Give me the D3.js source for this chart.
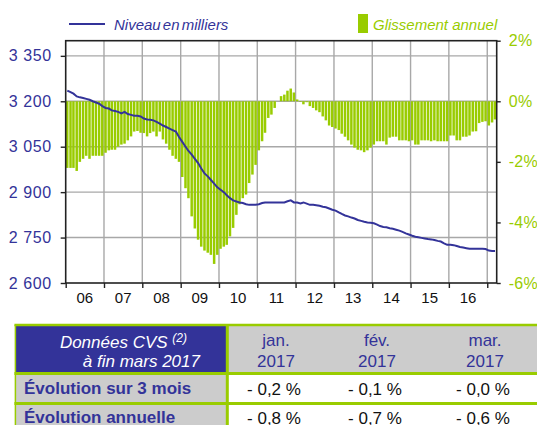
<!DOCTYPE html>
<html>
<head>
<meta charset="utf-8">
<script src="https://cdn.jsdelivr.net/npm/d3@7"></script>
<style>
  body { margin: 0; background: #fff; }
  svg { display: block; font-family: "Liberation Sans", Arial, sans-serif; }
</style>
</head>
<body>
<svg id="chart" width="537" height="425"></svg>
<script>
// Glissement annuel (%), monthly, jan. 2006 -> mar. 2017
const g2006 = [-2.2, -2.2, -2.2, -2.3, -2.0, -1.9, -1.8, -1.9, -1.8, -1.8, -1.8, -1.8];
const g2007 = [-1.7, -1.62, -1.6, -1.6, -1.5, -1.43, -1.4, -1.29, -1.16, -1.0, -0.98, -1.04];
const g2008 = [-1.05, -1.16, -1.05, -1.0, -1.16, -1.0, -1.26, -1.4, -1.6, -1.8, -1.9, -2.0];
const g2009 = [-2.5, -2.87, -3.2, -3.8, -4.2, -4.57, -4.8, -4.93, -5.0, -5.07, -5.37, -5.07];
const g2010 = [-4.87, -4.8, -4.74, -4.46, -4.18, -3.75, -3.4, -3.2, -3.08, -2.7, -2.42, -2.1];
const g2011 = [-1.62, -1.32, -1.04, -0.55, -0.44, -0.22, 0.0, 0.17, 0.22, 0.35, 0.42, 0.29];
const g2012 = [0.06, -0.02, -0.1, -0.03, -0.16, -0.22, -0.3, -0.36, -0.5, -0.63, -0.8, -0.85];
const g2013 = [-0.9, -0.95, -1.07, -1.17, -1.29, -1.43, -1.53, -1.6, -1.62, -1.68, -1.62, -1.53];
const g2014 = [-1.43, -1.32, -1.32, -1.32, -1.43, -1.2, -1.17, -1.17, -1.29, -1.29, -1.29, -1.32];
const g2015 = [-1.29, -1.43, -1.43, -1.29, -1.29, -1.29, -1.32, -1.29, -1.32, -1.32, -1.32, -1.32];
const g2016 = [-1.13, -1.13, -1.29, -1.29, -1.17, -1.17, -1.13, -1.0, -0.99, -0.72, -0.68, -0.66];
const g2017 = [-0.8, -0.7, -0.6];

// Niveau en milliers, monthly
const n2006 = [3235, 3230, 3225, 3216, 3213, 3211, 3208, 3205, 3200, 3196, 3192, 3184];
const n2007 = [3178, 3176, 3170, 3168, 3165, 3160, 3165, 3158, 3155, 3152, 3152, 3150];
const n2008 = [3143, 3140, 3139, 3137, 3132, 3126, 3120, 3115, 3110, 3105, 3100, 3082];
const n2009 = [3066, 3050, 3036, 3024, 3010, 2996, 2978, 2962, 2952, 2940, 2928, 2916];
const n2010 = [2908, 2900, 2890, 2880, 2873, 2869, 2866, 2864, 2860, 2858, 2858, 2858];
const n2011 = [2860, 2864, 2866, 2866, 2866, 2866, 2866, 2866, 2866, 2870, 2873, 2866];
const n2012 = [2866, 2863, 2866, 2862, 2858, 2858, 2857, 2855, 2852, 2850, 2846, 2842];
const n2013 = [2839, 2833, 2828, 2823, 2820, 2816, 2813, 2808, 2805, 2802, 2800, 2799];
const n2014 = [2797, 2793, 2788, 2785, 2784, 2781, 2779, 2776, 2773, 2769, 2764, 2760];
const n2015 = [2756, 2753, 2751, 2749, 2747, 2745, 2744, 2742, 2739, 2737, 2731, 2726];
const n2016 = [2726, 2725, 2722, 2719, 2717, 2715, 2713, 2713, 2713, 2713, 2713, 2712];
const n2017 = [2707, 2706, 2706];

const yearLabels = ["06", "07", "08", "09", "10", "11", "12", "13", "14", "15", "16"];
const leftTicks = [2600, 2750, 2900, 3050, 3200, 3350];
const rightTicks = [-6, -4, -2, 0, 2];

// table
const colMonths = ["jan.", "fév.", "mar."];
const colYear = "2017";
const rowLabels = ["Évolution sur 3 mois", "Évolution annuelle"];
const evol3mois = [-0.2, -0.1, -0.0];
const evolAnnuelle = [-0.8, -0.7, -0.6];

const BLUE = "#333399";
const GREEN = "#99cc00";
const GREY = "#cccccc";

const glissement = [].concat(g2006, g2007, g2008, g2009, g2010, g2011, g2012, g2013, g2014, g2015, g2016, g2017);
const niveau = [].concat(n2006, n2007, n2008, n2009, n2010, n2011, n2012, n2013, n2014, n2015, n2016, n2017);
const months = d3.timeMonth.range(new Date(2006, 0, 1), new Date(2017, 3, 1));
const data = months.map((m, i) => ({ date: m, g: glissement[i], n: niveau[i] }));

const svg = d3.select("#chart");
const plotL = 65.7, plotR = 496.7, plotT = 40.7, plotB = 283;

const x = d3.scaleTime()
  .domain([new Date(2006, 0, 1), new Date(2017, 3, 1)])
  .range([plotL, plotR]);
const yL = d3.scaleLinear().domain([2600, 3400]).range([plotB, plotT]);
const yR = d3.scaleLinear().domain([-6, 2]).range([plotB, plotT]);

const fr = d3.formatLocale({ decimal: ",", thousands: " ", grouping: [3], currency: ["", " €"] });

// gridlines
const years = d3.timeYear.range(new Date(2007, 0, 1), new Date(2017, 0, 2));
svg.append("g")
  .selectAll("line")
  .data(years)
  .join("line")
  .attr("x1", (d) => x(d)).attr("x2", (d) => x(d))
  .attr("y1", plotT).attr("y2", plotB)
  .attr("stroke", "#a8a8a8").attr("stroke-width", 1.4);

svg.append("g")
  .selectAll("line")
  .data(leftTicks.slice(1))
  .join("line")
  .attr("x1", plotL).attr("x2", plotR)
  .attr("y1", (d) => yL(d)).attr("y2", (d) => yL(d))
  .attr("stroke", "#a8a8a8").attr("stroke-width", 1.4);

// bars
svg.append("g")
  .selectAll("rect")
  .data(data)
  .join("rect")
  .attr("x", (d) => x(d.date) + 0.3)
  .attr("width", 2.5)
  .attr("y", (d) => Math.min(yR(d.g), yR(0)))
  .attr("height", (d) => Math.abs(yR(d.g) - yR(0)))
  .attr("fill", GREEN);

// line
const line = d3.line()
  .x((d) => x(d.date) + 1.6)
  .y((d) => yL(d.n));
svg.append("path")
  .datum(data)
  .attr("d", line)
  .attr("fill", "none")
  .attr("stroke", BLUE)
  .attr("stroke-width", 2);

// frame
svg.append("rect")
  .attr("x", plotL).attr("y", plotT)
  .attr("width", plotR - plotL).attr("height", plotB - plotT)
  .attr("fill", "none").attr("stroke", "#222").attr("stroke-width", 1.6);

// left axis
const axL = svg.append("g")
  .attr("transform", `translate(${plotL},0)`)
  .call(d3.axisLeft(yL).tickValues(leftTicks).tickSize(5).tickPadding(9).tickFormat(fr.format(",")));
axL.select(".domain").remove();
axL.selectAll("line").attr("stroke", "#222").attr("stroke-width", 1.4);
axL.selectAll("text")
  .attr("fill", BLUE).attr("font-size", 16).attr("letter-spacing", 0.6)
  .attr("font-family", '"Liberation Sans", Arial, sans-serif');

// right axis
const axR = svg.append("g")
  .attr("transform", `translate(${plotR},0)`)
  .call(d3.axisRight(yR).tickValues(rightTicks).tickSize(4).tickPadding(8).tickFormat((d) => d + "%"));
axR.select(".domain").remove();
axR.selectAll("line").attr("stroke", "#222").attr("stroke-width", 1.4);
axR.selectAll("text")
  .attr("fill", GREEN).attr("font-size", 16).attr("letter-spacing", 0.3)
  .attr("font-family", '"Liberation Sans", Arial, sans-serif');

// bottom axis: ticks on year boundaries, labels mid-year
const axB = svg.append("g")
  .attr("transform", `translate(0,${plotB})`)
  .call(d3.axisBottom(x).tickValues(d3.timeYear.range(new Date(2006, 0, 1), new Date(2017, 0, 2))).tickSize(5).tickFormat(""));
axB.select(".domain").remove();
axB.selectAll("line").attr("stroke", "#222").attr("stroke-width", 1.4);

svg.append("g")
  .selectAll("text")
  .data(yearLabels)
  .join("text")
  .attr("x", (d, i) => (x(new Date(2006 + i, 0, 1)) + x(new Date(2007 + i, 0, 1))) / 2)
  .attr("y", 303)
  .attr("text-anchor", "middle")
  .attr("font-size", 15)
  .attr("fill", "#111")
  .text((d) => d);

// legend
svg.append("line")
  .attr("x1", 69).attr("x2", 105).attr("y1", 24).attr("y2", 24)
  .attr("stroke", BLUE).attr("stroke-width", 2);
svg.append("text")
  .attr("x", 114).attr("y", 30)
  .attr("font-size", 15).attr("font-style", "italic").attr("word-spacing", -2)
  .attr("fill", BLUE)
  .text("Niveau en milliers");
svg.append("rect")
  .attr("x", 358).attr("y", 14).attr("width", 10).attr("height", 19)
  .attr("fill", GREEN);
svg.append("text")
  .attr("x", 373).attr("y", 30)
  .attr("font-size", 15).attr("font-style", "italic")
  .attr("fill", GREEN)
  .text("Glissement annuel");

// table
const tLeft = 15.4, tSplit = 227.3, tRight = 540;
const rowTops = [325, 373.5, 403.5, 440];
const colCenters = [276, 377, 485];
const fmtPct = (v) => (v <= 0 ? "- " : "+ ") + Math.abs(v).toFixed(1).replace(".", ",") + " %";

const tbl = svg.append("g");
tbl.append("rect").attr("x", tLeft).attr("y", rowTops[0])
  .attr("width", tSplit - tLeft).attr("height", rowTops[1] - rowTops[0]).attr("fill", BLUE);
tbl.append("rect").attr("x", tSplit).attr("y", rowTops[0])
  .attr("width", tRight - tSplit).attr("height", rowTops[1] - rowTops[0]).attr("fill", GREY);
tbl.selectAll(".lab")
  .data(rowLabels)
  .join("rect")
  .attr("x", tLeft).attr("y", (d, i) => rowTops[i + 1])
  .attr("width", tSplit - tLeft).attr("height", (d, i) => rowTops[i + 2] - rowTops[i + 1])
  .attr("fill", GREY);

// green rules
const rules = tbl.append("g").attr("stroke", GREEN);
rules.append("line").attr("x1", tLeft - 1).attr("x2", tRight).attr("y1", rowTops[0]).attr("y2", rowTops[0]).attr("stroke-width", 2.5);
rowTops.slice(1, 3).forEach((yy) => {
  rules.append("line").attr("x1", tLeft - 1).attr("x2", tRight).attr("y1", yy).attr("y2", yy).attr("stroke-width", 3);
});
rules.append("line").attr("x1", tSplit).attr("x2", tSplit).attr("y1", rowTops[0]).attr("y2", 425).attr("stroke-width", 3);
rules.append("line").attr("x1", tLeft).attr("x2", tLeft).attr("y1", rowTops[0]).attr("y2", 425).attr("stroke-width", 1.5);

// header text
const hdr = tbl.append("text")
  .attr("text-anchor", "end").attr("font-size", 17).attr("font-style", "italic")
  .attr("fill", "#fff");
hdr.append("tspan").attr("x", 187).attr("y", 347.5).text("Données CVS ");
hdr.append("tspan").attr("font-size", 12).attr("dy", -6).text("(2)");
hdr.append("tspan").attr("x", 200).attr("y", 366.5).text("à fin mars 2017");

tbl.selectAll(".mon")
  .data(colMonths)
  .join("text")
  .attr("x", (d, i) => colCenters[i]).attr("y", 346)
  .attr("text-anchor", "middle").attr("font-size", 17).attr("fill", BLUE)
  .text((d) => d);
tbl.selectAll(".yr")
  .data(colMonths)
  .join("text")
  .attr("x", (d, i) => colCenters[i]).attr("y", 366.5)
  .attr("text-anchor", "middle").attr("font-size", 17).attr("fill", BLUE)
  .text(colYear);

// row labels and values
tbl.selectAll(".rl")
  .data(rowLabels)
  .join("text")
  .attr("x", 24).attr("y", (d, i) => [394, 423][i])
  .attr("font-size", 17).attr("font-weight", "bold").attr("fill", BLUE)
  .text((d) => d);

[evol3mois, evolAnnuelle].forEach((vals, r) => {
  tbl.append("g")
    .selectAll("text")
    .data(vals)
    .join("text")
    .attr("x", (d, i) => colCenters[i] - 2).attr("y", [395, 424][r])
    .attr("text-anchor", "middle").attr("font-size", 17).attr("fill", "#111")
    .text((d) => fmtPct(d));
});
</script>
</body>
</html>
